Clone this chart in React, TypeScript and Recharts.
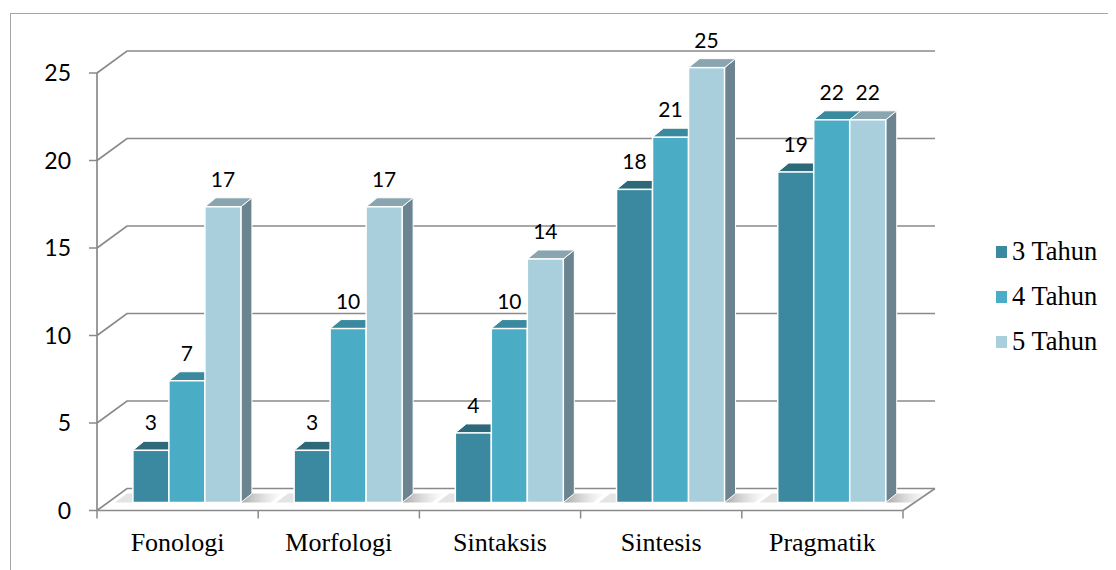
import React from 'react';
import { BarChart, Bar, XAxis, YAxis, CartesianGrid, Legend, LabelList } from 'recharts';

const categories = ['Fonologi', 'Morfologi', 'Sintaksis', 'Sintesis', 'Pragmatik'];
const tahun3 = [3, 3, 4, 18, 19];
const tahun4 = [7, 10, 10, 21, 22];
const tahun5 = [17, 17, 14, 25, 22];
const yTicks = [0, 5, 10, 15, 20, 25];
const seriesNames = ['3 Tahun', '4 Tahun', '5 Tahun'];

const data = categories.map((name, i) => ({
  name,
  t3: tahun3[i],
  t4: tahun4[i],
  t5: tahun5[i],
}));

const W = 1108;
const H = 562;
const PLOT_LEFT = 89;
const PLOT_RIGHT = 895;
const PLOT_W = PLOT_RIGHT - PLOT_LEFT;
const GRID = '#8a8a8a';
const SERIF = "'Liberation Serif', 'Times New Roman', serif";

// bar depth placement
const SHIFT_X = 9;
const SHIFT_Y = 8;
const TOP_DX = 11;
const TOP_DY = 9;
const SHRINK = 0.994;

const colors = {
  t3: { front: '#3a89a0', top: '#2d6979', side: '#2d6979' },
  t4: { front: '#4bacc6', top: '#3a8a9f', side: '#367f94' },
  t5: { front: '#a9cfdd', top: '#88a5b0', side: '#6b8490' },
};

const makeShape = (key: 't3' | 't4' | 't5') => (props: any) => {
  const { x, y, width, height, index } = props;
  const c = colors[key];
  const base = y + height - SHIFT_Y;
  const top = base - height * SHRINK;
  const fx = x + SHIFT_X;
  const gid = `sh-${key}-${index}`;
  return (
    <g>
      {key === 't5' && (
        <g>
          <defs>
            <linearGradient id={gid} x1="0" y1="0" x2="1" y2="0">
              <stop offset="0%" stopColor="#8a8a8a" stopOpacity={0.75} />
              <stop offset="100%" stopColor="#bdbdbd" stopOpacity={0} />
            </linearGradient>
          </defs>
          <polygon
            points={`${fx + width},${base} ${fx + width + TOP_DX},${base - TOP_DY} ${fx + width + 42},${base - TOP_DY} ${fx + width + 30},${base}`}
            fill={`url(#${gid})`}
          />
        </g>
      )}
      {key === 't3' && (
        <polygon
          points={`${fx - 18},${base} ${fx - 6},${base - TOP_DY} ${fx + 4},${base - TOP_DY} ${fx},${base}`}
          fill="#d8d8d8"
          opacity={0.7}
        />
      )}
      <polygon
        points={`${fx + width},${top} ${fx + width + TOP_DX},${top - TOP_DY} ${fx + width + TOP_DX},${base - TOP_DY} ${fx + width},${base}`}
        fill={c.side}
        stroke="#ffffff"
        strokeWidth={1}
        strokeLinejoin="round"
      />
      <polygon
        points={`${fx},${top} ${fx + TOP_DX},${top - TOP_DY} ${fx + width + TOP_DX},${top - TOP_DY} ${fx + width},${top}`}
        fill={c.top}
        stroke="#ffffff"
        strokeWidth={1}
        strokeLinejoin="round"
      />
      <rect x={fx} y={top} width={width} height={base - top} fill={c.front} stroke="#ffffff" strokeWidth={1.5} />
    </g>
  );
};

const renderValue = (props: any) => {
  const { x, y, width, height, value } = props;
  const base = y + height - SHIFT_Y;
  const top = base - height * SHRINK;
  return (
    <text
      x={x + SHIFT_X + width / 2}
      y={top - TOP_DY - 11}
      textAnchor="middle"
      fontFamily="Lato, sans-serif"
      fontSize={21}
      fill="#000"
    >
      {value}
    </text>
  );
};

const gridLine = (props: any) => {
  const { x1, y1, x2 } = props;
  const isFloor = Math.abs(y1 - 502.5) < 2;
  return (
    <g key={`g-${y1}`}>
      <path
        d={`M${x1},${y1} L${x1 + 30},${y1 - 22} L${x2 + 32},${y1 - 22}`}
        fill="none"
        stroke={GRID}
        strokeWidth={1.7}
      />
      {isFloor && (
        <path d={`M${x2},${y1} L${x2 + 32},${y1 - 22}`} fill="none" stroke={GRID} strokeWidth={1.7} />
      )}
    </g>
  );
};

const XTick = (props: any) => {
  const { x, y, payload, index } = props;
  const band = PLOT_W / categories.length;
  return (
    <g>
      <line x1={x - band / 2} y1={y} x2={x - band / 2} y2={y + 8} stroke={GRID} strokeWidth={1.5} />
      {index === categories.length - 1 && (
        <line x1={x + band / 2} y1={y} x2={x + band / 2} y2={y + 8} stroke={GRID} strokeWidth={1.5} />
      )}
      <text x={x} y={y + 40} textAnchor="middle" fontFamily={SERIF} fontSize={26} fill="#000">
        {payload.value}
      </text>
    </g>
  );
};

const legendColors = [colors.t3.front, colors.t4.front, colors.t5.front];

const renderLegend = () => (
  <div style={{ fontFamily: SERIF }}>
    {seriesNames.map((n, i) => (
      <div key={n} style={{ display: 'flex', alignItems: 'center', height: 45 }}>
        <span style={{ display: 'inline-block', width: 11, height: 12, background: legendColors[i], marginRight: 5 }} />
        <span style={{ fontFamily: SERIF, fontSize: 26.5, color: '#000', whiteSpace: 'nowrap' }}>{n}</span>
      </div>
    ))}
  </div>
);

export default function App() {
  return (
    <div style={{ position: 'relative', width: W, height: H }}>
      <div
        style={{
          position: 'absolute',
          left: 2,
          top: 5,
          width: W + 20,
          height: H + 20,
          borderLeft: '1.5px solid #a6a6a6',
          borderTop: '1.5px solid #a6a6a6',
        }}
      />
      <BarChart
        width={W}
        height={H}
        data={data}
        margin={{ top: 65, right: 93, bottom: 19.5, left: 0 }}
        barCategoryGap="16.7%"
        barGap={0}
      >
        <CartesianGrid vertical={false} horizontal={gridLine} />
        <XAxis
          dataKey="name"
          height={40}
          tickLine={false}
          tickSize={0}
          tickMargin={0}
          axisLine={{ stroke: GRID, strokeWidth: 1.7 }}
          tick={<XTick />}
          interval={0}
        />
        <YAxis
          width={89}
          domain={[0, 25]}
          ticks={yTicks}
          tickSize={8}
          tickMargin={18}
          axisLine={{ stroke: GRID, strokeWidth: 1.7 }}
          tickLine={{ stroke: GRID, strokeWidth: 1.5 }}
          tick={{ fontFamily: 'Lato, sans-serif', fontSize: 23, fill: '#000' }}
        />
        <Legend
          layout="vertical"
          verticalAlign="middle"
          align="right"
          content={renderLegend}
          wrapperStyle={{ left: 988, top: 221, width: 120 }}
        />
        <Bar dataKey="t3" name={seriesNames[0]} fill={colors.t3.front} shape={makeShape('t3')} isAnimationActive={false}>
          <LabelList dataKey="t3" content={renderValue} />
        </Bar>
        <Bar dataKey="t4" name={seriesNames[1]} fill={colors.t4.front} shape={makeShape('t4')} isAnimationActive={false}>
          <LabelList dataKey="t4" content={renderValue} />
        </Bar>
        <Bar dataKey="t5" name={seriesNames[2]} fill={colors.t5.front} shape={makeShape('t5')} isAnimationActive={false}>
          <LabelList dataKey="t5" content={renderValue} />
        </Bar>
      </BarChart>
    </div>
  );
}
